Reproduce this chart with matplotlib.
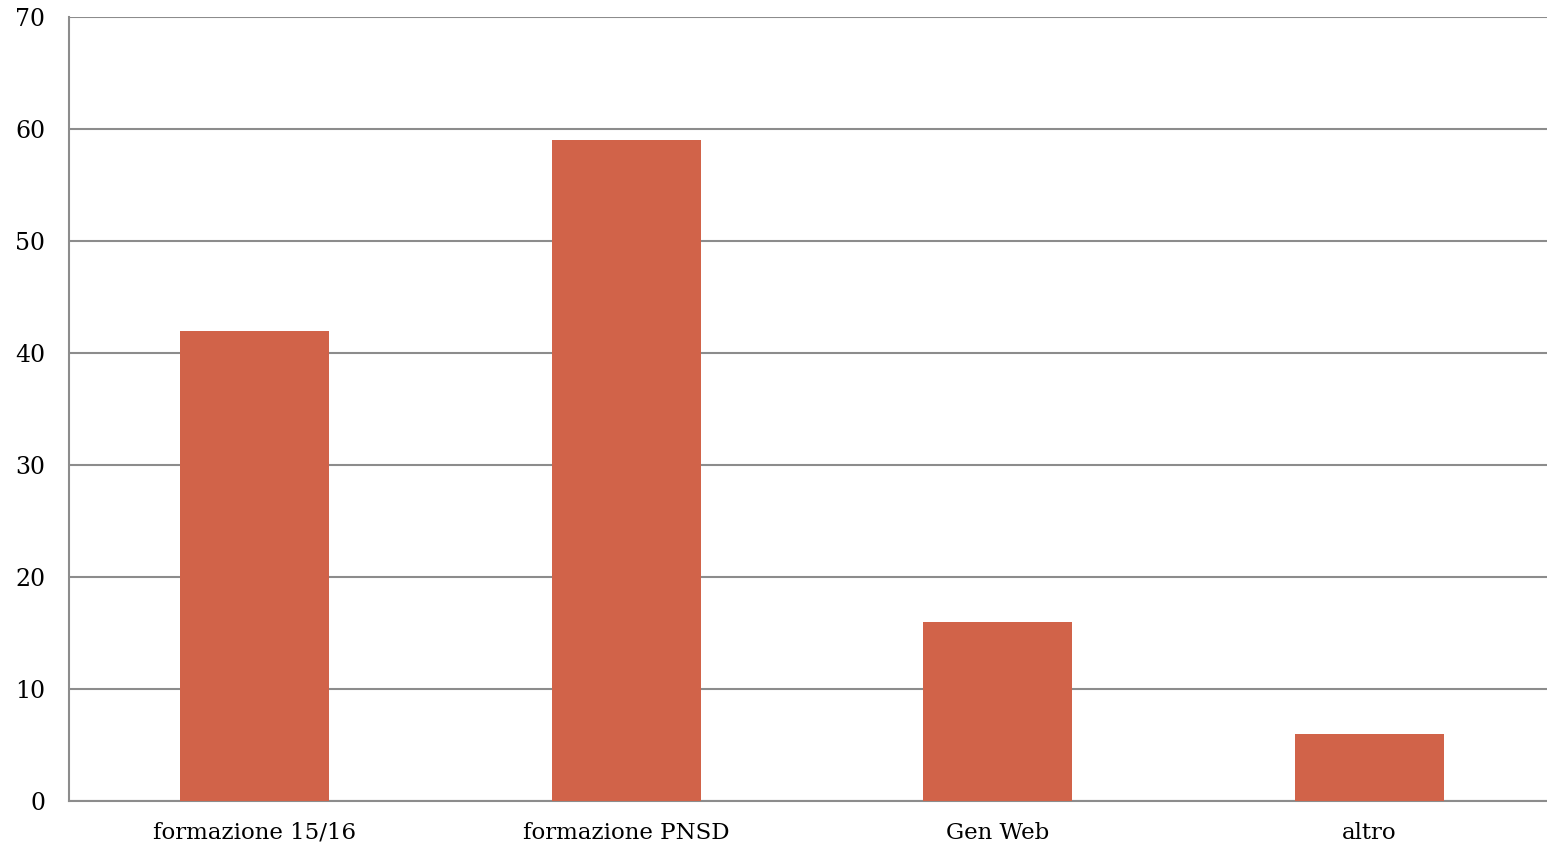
import matplotlib
matplotlib.use('Agg')
import matplotlib.pyplot as plt

categories = ['formazione 15/16', 'formazione PNSD', 'Gen Web', 'altro']
values = [42, 59, 16, 6]
yticks = [0, 10, 20, 30, 40, 50, 60, 70]

plt.rcParams['font.family'] = ['DejaVu Serif']

fig = plt.figure(figsize=(15.47, 8.49), dpi=100)
# plot area runs a little past the right edge of the picture
ax = fig.add_axes([69/1547, 48/849, 1486/1547, 784/849])

x = list(range(len(categories)))
ax.bar(x, values, width=0.4, color='#D16349', zorder=3)

ax.set_xlim(-0.5, len(categories) - 0.5)
ax.set_ylim(0, 70)
ax.set_yticks(yticks)
ax.set_yticklabels([str(v) for v in yticks], fontsize=17)
ax.set_xticks(x)
ax.set_xticklabels(categories, fontsize=16.5)
ax.yaxis.grid(True, color='#8c8c8c', lw=1.5, zorder=0)
ax.tick_params(axis='both', length=0)
ax.tick_params(axis='y', pad=17)
ax.tick_params(axis='x', pad=15)
for s in ['top', 'right']:
    ax.spines[s].set_visible(False)
for s in ['left', 'bottom']:
    ax.spines[s].set_color('#8c8c8c')
    ax.spines[s].set_linewidth(1.5)

fig.savefig('out.png', dpi=100)
